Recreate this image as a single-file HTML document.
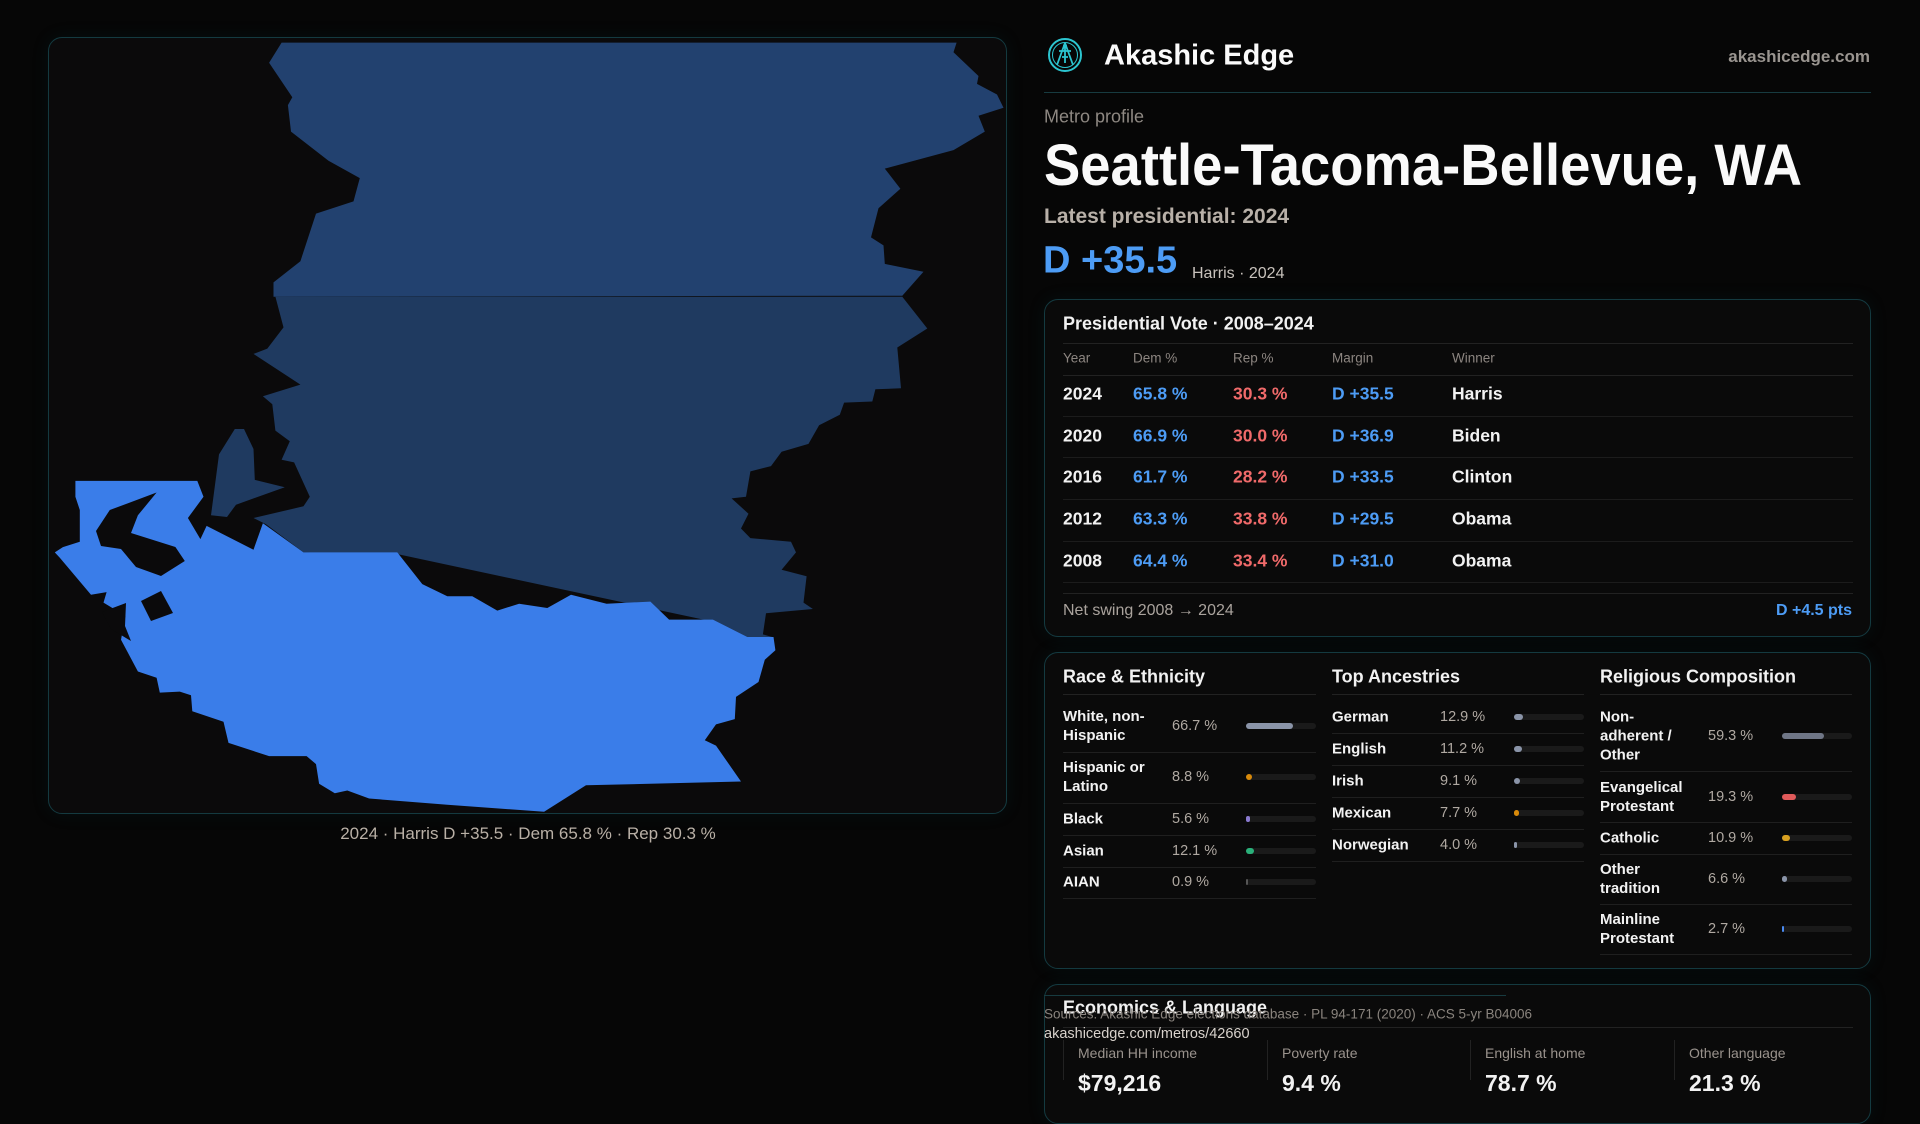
<!DOCTYPE html>
<html><head><meta charset="utf-8"><style>
*{margin:0;padding:0;box-sizing:border-box}
body{width:1920px;height:1080px;background:#060606;overflow:hidden;position:relative;font-family:"Liberation Sans",sans-serif;color:#f2f2f2}
.abs{position:absolute;white-space:nowrap}
.panel{position:absolute;border:1px solid #143a40;border-radius:14px;background:#0a0a0a;box-shadow:0 0 18px rgba(20,90,100,0.12)}
.hl{position:absolute;height:1px;background:#222}
.mid{transform:translateY(-50%)}
</style></head><body>
<div class="panel" style="left:48px;top:37px;width:959px;height:777px;background:#0b0a0b;overflow:hidden">
<svg width="959" height="777" viewBox="48 37 959 777">
<polygon fill="#22416f" points="280.6,41.6 955.6,41.6 952.5,51.2 977.5,75 976,82.9 996,93.5 1002.5,106.7 977.5,114.7 983.8,130.6 952.5,149.1 883.8,167.6 899.4,187.7 877.5,207.3 870,236.4 882.5,244.4 883.8,262.9 922.5,270.8 901.3,294.7 272.5,295.7 272.5,281.4 299.4,260.2 315,212.6 352.5,200.4 358.8,177.1 327.5,159.7 290,130.6 286.9,104.1 291.3,96.2 268.1,61.8"/>
<polygon fill="#1f3a60" points="274.4,295.7 901.3,295.7 926.3,327.5 896.3,346.5 900,387.3 874.4,388.3 871.3,400.5 843.1,401.6 838.8,413.7 818.1,424.3 807.5,442.9 780.6,450.8 770,465.1 749.4,470.4 745,495.8 730.6,497.4 747.5,512.7 740,527.5 749.4,537.1 790,540.8 795,551.4 780.6,568.8 805.6,575.2 802.5,601.6 811.9,608 765,612.2 761.9,633.4 771.3,636 743,637.6 702.5,618.6 396,553 302.5,551.4 265,523.3 252.5,517 302.5,505.3 308.8,495.8 293.1,461.4 280.6,458.7 288.8,440.2 274.4,429.6 271.3,403.2 261.9,395.2 299.4,383.6 252.5,352.9 266.3,347.6 282.5,326.4"/>
<polygon fill="#1f3a60" points="233.8,428 243,428 252.5,448 253.8,478.9 283.8,486.3 235,503.7 226,516 210,514.3 218,453.4"/>
<polygon fill="#3a7de9" points="74.4,479.9 196.3,479.9 202.5,495.8 186.9,517 199.4,538.1 205.6,524.9 252.5,548.7 261.9,522.2 302.5,551.4 396.3,551.4 421.3,583.1 446.3,595.3 471.3,595.3 496.3,609.6 518.1,602.7 546.3,607 570,593.7 605.6,602.7 649.4,600.6 668.1,618.6 711.9,618.6 746.3,636 772.5,636 774.4,649.3 763.8,658.8 757.5,681 735,695.9 733.8,718.1 715,723.4 703.8,739.3 715,744.6 740,780.5 585,784.3 543.1,810.7 446.3,803.8 368.1,797.5 346.3,789.5 333.8,792.2 318.1,782.7 315,763.1 305.6,755.1 268.1,755.1 227.5,741.9 222.5,720.7 191.3,710.2 190,694.3 178.8,690.6 158.8,691.6 155.6,676.8 136.9,670.5 120,638.7 124.4,614.9 102.5,601.6 105.6,591.1 90,593.7 58.8,556.7 53.8,551.4 61.9,546.1 78.8,540.8 78.8,509 74.4,495.8"/>
<polygon fill="#0b0a0b" points="108.8,509 155.6,491.5 136.9,514.3 130,532 174.4,546 183.8,560 160,575 135,566 120,548 100,545 95,530"/>
<polygon fill="#0b0a0b" points="101,611 125,602 124,625 130,640 110,628"/>
<polygon fill="#0b0a0b" points="140,600 160,590 172,612 150,620"/>
</svg>
</div>
<div class="abs" style="left:0;width:1056px;text-align:center;top:824px;font-size:17px;color:#b9b0a6">2024 · Harris D +35.5 · Dem 65.8 % · Rep 30.3 %</div>

<svg class="abs" style="left:1047px;top:37px" width="36" height="36" viewBox="0 0 36 36">
<circle cx="18" cy="18" r="16" fill="none" stroke="#2cc5d0" stroke-width="2"/>
<circle cx="18" cy="18" r="12.5" fill="none" stroke="#2cc5d0" stroke-width="1"/>
<path d="M18 6 L10 28 M18 6 L26 28 M12 14 L24 14 M18 10 L18 26 M15 20 L21 20" stroke="#2cc5d0" stroke-width="1.8" fill="none"/>
<circle cx="18" cy="9" r="2" fill="#2cc5d0"/>
</svg>
<div class="abs mid" style="left:1104px;top:56px;font-size:29px;font-weight:bold;color:#fafafa">Akashic Edge</div>
<div class="abs mid" style="right:50px;top:57px;font-size:17px;font-weight:bold;color:#9a9590">akashicedge.com</div>
<div class="hl" style="left:1044px;width:827px;top:92px;background:#173b40"></div>
<div class="abs mid" style="left:1044px;top:117px;font-size:18px;color:#8e8882">Metro profile</div>
<svg class="abs" style="left:1044px;top:130px" width="780" height="70"><text x="0" y="55" textLength="758" lengthAdjust="spacingAndGlyphs" font-family="Liberation Sans" font-weight="bold" font-size="58" fill="#fafafa">Seattle-Tacoma-Bellevue,  WA</text></svg>
<div class="abs mid" style="left:1044px;top:217px;font-size:21px;font-weight:bold;color:#b8b0a8">Latest presidential: 2024</div>
<div class="abs mid" style="left:1043px;top:261px;font-size:38px;font-weight:bold;color:#4d9cf5">D +35.5</div>
<div class="abs mid" style="left:1192px;top:274px;font-size:16px;color:#c8c2bc">Harris · 2024</div>

<div class="panel" style="left:1044px;top:299px;width:827px;height:338px"></div>
<div class="abs mid" style="left:1063px;top:324px;font-size:18px;font-weight:bold">Presidential Vote · 2008–2024</div>
<div class="hl" style="left:1063px;width:790px;top:343px"></div>
<div id="table"></div>
<div class="hl" style="left:1063px;width:790px;top:593px"></div>
<div class="abs mid" style="left:1063px;top:611px;font-size:16px;color:#aaa39d">Net swing 2008 → 2024</div>
<div class="abs mid" style="right:68px;top:611px;font-size:16px;font-weight:bold;color:#4d9cf5">D +4.5 pts</div>

<div class="panel" style="left:1044px;top:652px;width:827px;height:317px"></div>
<div id="demo"></div>

<div class="panel" style="left:1044px;top:984px;width:827px;height:140px"></div>
<div class="abs mid" style="left:1063px;top:1008px;font-size:18px;font-weight:bold">Economics &amp; Language</div>
<div class="hl" style="left:1063px;width:790px;top:1027px"></div>
<div id="econ"></div>
<div class="hl" style="left:1044px;width:462px;top:995px;background:#173b40"></div>
<div class="abs mid" style="left:1044px;top:1014px;font-size:13.5px;color:#8a847e">Sources: Akashic Edge elections database · PL 94-171 (2020) · ACS 5-yr B04006</div>
<div class="abs mid" style="left:1044px;top:1034px;font-size:14.5px;color:#d8d2cc">akashicedge.com/metros/42660</div>

<script>
const years=["2024","2020","2016","2012","2008"];
const demPct=[65.8,66.9,61.7,63.3,64.4];
const repPct=[30.3,30.0,28.2,33.8,33.4];
const winners=["Harris","Biden","Clinton","Obama","Obama"];
const raceLabels=["White, non-<br>Hispanic","Hispanic or<br>Latino","Black","Asian","AIAN"];
const raceValues=[66.7,8.8,5.6,12.1,0.9];
const raceColors=["#8a94a8","#d98a0a","#8a7ad0","#2ab07a","#555"];
const ancLabels=["German","English","Irish","Mexican","Norwegian"];
const ancValues=[12.9,11.2,9.1,7.7,4.0];
const ancColors=["#8a94a8","#8a94a8","#8a94a8","#d98a0a","#8a94a8"];
const relLabels=["Non-<br>adherent /<br>Other","Evangelical<br>Protestant","Catholic","Other<br>tradition","Mainline<br>Protestant"];
const relValues=[59.3,19.3,10.9,6.6,2.7];
const relColors=["#6f7686","#e05a5a","#d8a020","#8a94a8","#4a8af0"];
const econLabels=["Median HH income","Poverty rate","English at home","Other language"];
const econValues=["$79,216","9.4 %","78.7 %","21.3 %"];

function mk(parent,html,style){const d=document.createElement('div');d.className='abs';d.innerHTML=html;d.style.cssText=style;parent.appendChild(d);return d;}
const T=document.getElementById('table');
const hdr=["Year","Dem %","Rep %","Margin","Winner"],cx=[1063,1133,1233,1332,1452];
hdr.forEach((h,i)=>{const e=mk(T,h,`left:${cx[i]}px;top:358px;font-size:13.5px;color:#8c8580;transform:translateY(-50%)`);

});
mk(T,'',`left:1063px;top:375px;width:790px;height:1px;background:#222`);
const rowY=y=>394+y*41.7;
years.forEach((yr,i)=>{const y=rowY(i);
const m=(demPct[i]-repPct[i]).toFixed(1);
const cells=[[yr,'#f2f2f2'],[demPct[i].toFixed(1)+' %','#4d9cf5'],[repPct[i].toFixed(1)+' %','#f06a6a'],['D +'+m,'#4d9cf5'],[winners[i],'#f2f2f2']];
cells.forEach((c,j)=>{const e=mk(T,c[0],`left:${cx[j]}px;top:${y}px;font-size:17.5px;font-weight:bold;color:${c[1]};transform:translateY(-50%)`);

});
const l=mk(T,'',`left:1063px;top:${y+21.5}px;width:790px;height:1px;background:#1c1c1c`);


});

const D=document.getElementById('demo');
function section(title,x0,valX,barX,labels,values,colors,centers,seps){
 const t=mk(D,title,`left:${x0}px;top:677px;font-size:18px;font-weight:bold;transform:translateY(-50%)`);
 
 
 mk(D,'',`left:${x0}px;top:694px;width:${barX+70-x0}px;height:1px;background:#222`);
 labels.forEach((lb,i)=>{
  const a=mk(D,lb,`left:${x0}px;top:${centers[i]}px;font-size:15px;font-weight:bold;line-height:19px;transform:translateY(-50%);white-space:normal`);
  
  
  const v=mk(D,values[i].toFixed(1)+' %',`left:${valX}px;top:${centers[i]}px;font-size:14.5px;color:#b0a9a2;transform:translateY(-50%)`);
  
  
  const tr=mk(D,'',`left:${barX}px;top:${centers[i]-3}px;width:70px;height:6px;border-radius:3px;background:#1a1a1a`);
  
  
  const w=Math.max(2,70*values[i]/100);
  const b=mk(D,'',`left:${barX}px;top:${centers[i]-3}px;width:${w}px;height:6px;border-radius:3px;background:${colors[i]}`);
  
  
  const s=mk(D,'',`left:${x0}px;top:${seps[i]}px;width:${barX+70-x0}px;height:1px;background:#1f1f1f`);
  
  
 });
}
section('Race &amp; Ethnicity',1063,1172,1246,raceLabels,raceValues,raceColors,[726,777,819,851,882],[752,803,835,867,898]);
section('Top Ancestries',1332,1440,1514,ancLabels,ancValues,ancColors,[717,749,781,813,845],[733,765,797,829,861]);
section('Religious Composition',1600,1708,1782,relLabels,relValues,relColors,[736,797,838,879,929],[771,822,854,904,954]);

const E=document.getElementById('econ');
const ex=[1063,1267,1470,1674];
econLabels.forEach((lb,i)=>{
 const d=mk(E,'',`left:${ex[i]}px;top:1040px;width:1px;height:40px;background:#222`);
 
 
 const l=mk(E,lb,`left:${ex[i]+15}px;top:1045px;font-size:14px;color:#9a938d`);
 
 
 const v=mk(E,econValues[i],`left:${ex[i]+15}px;top:1070px;font-size:23px;font-weight:bold`);
 
 
});
</script>
</body></html>
